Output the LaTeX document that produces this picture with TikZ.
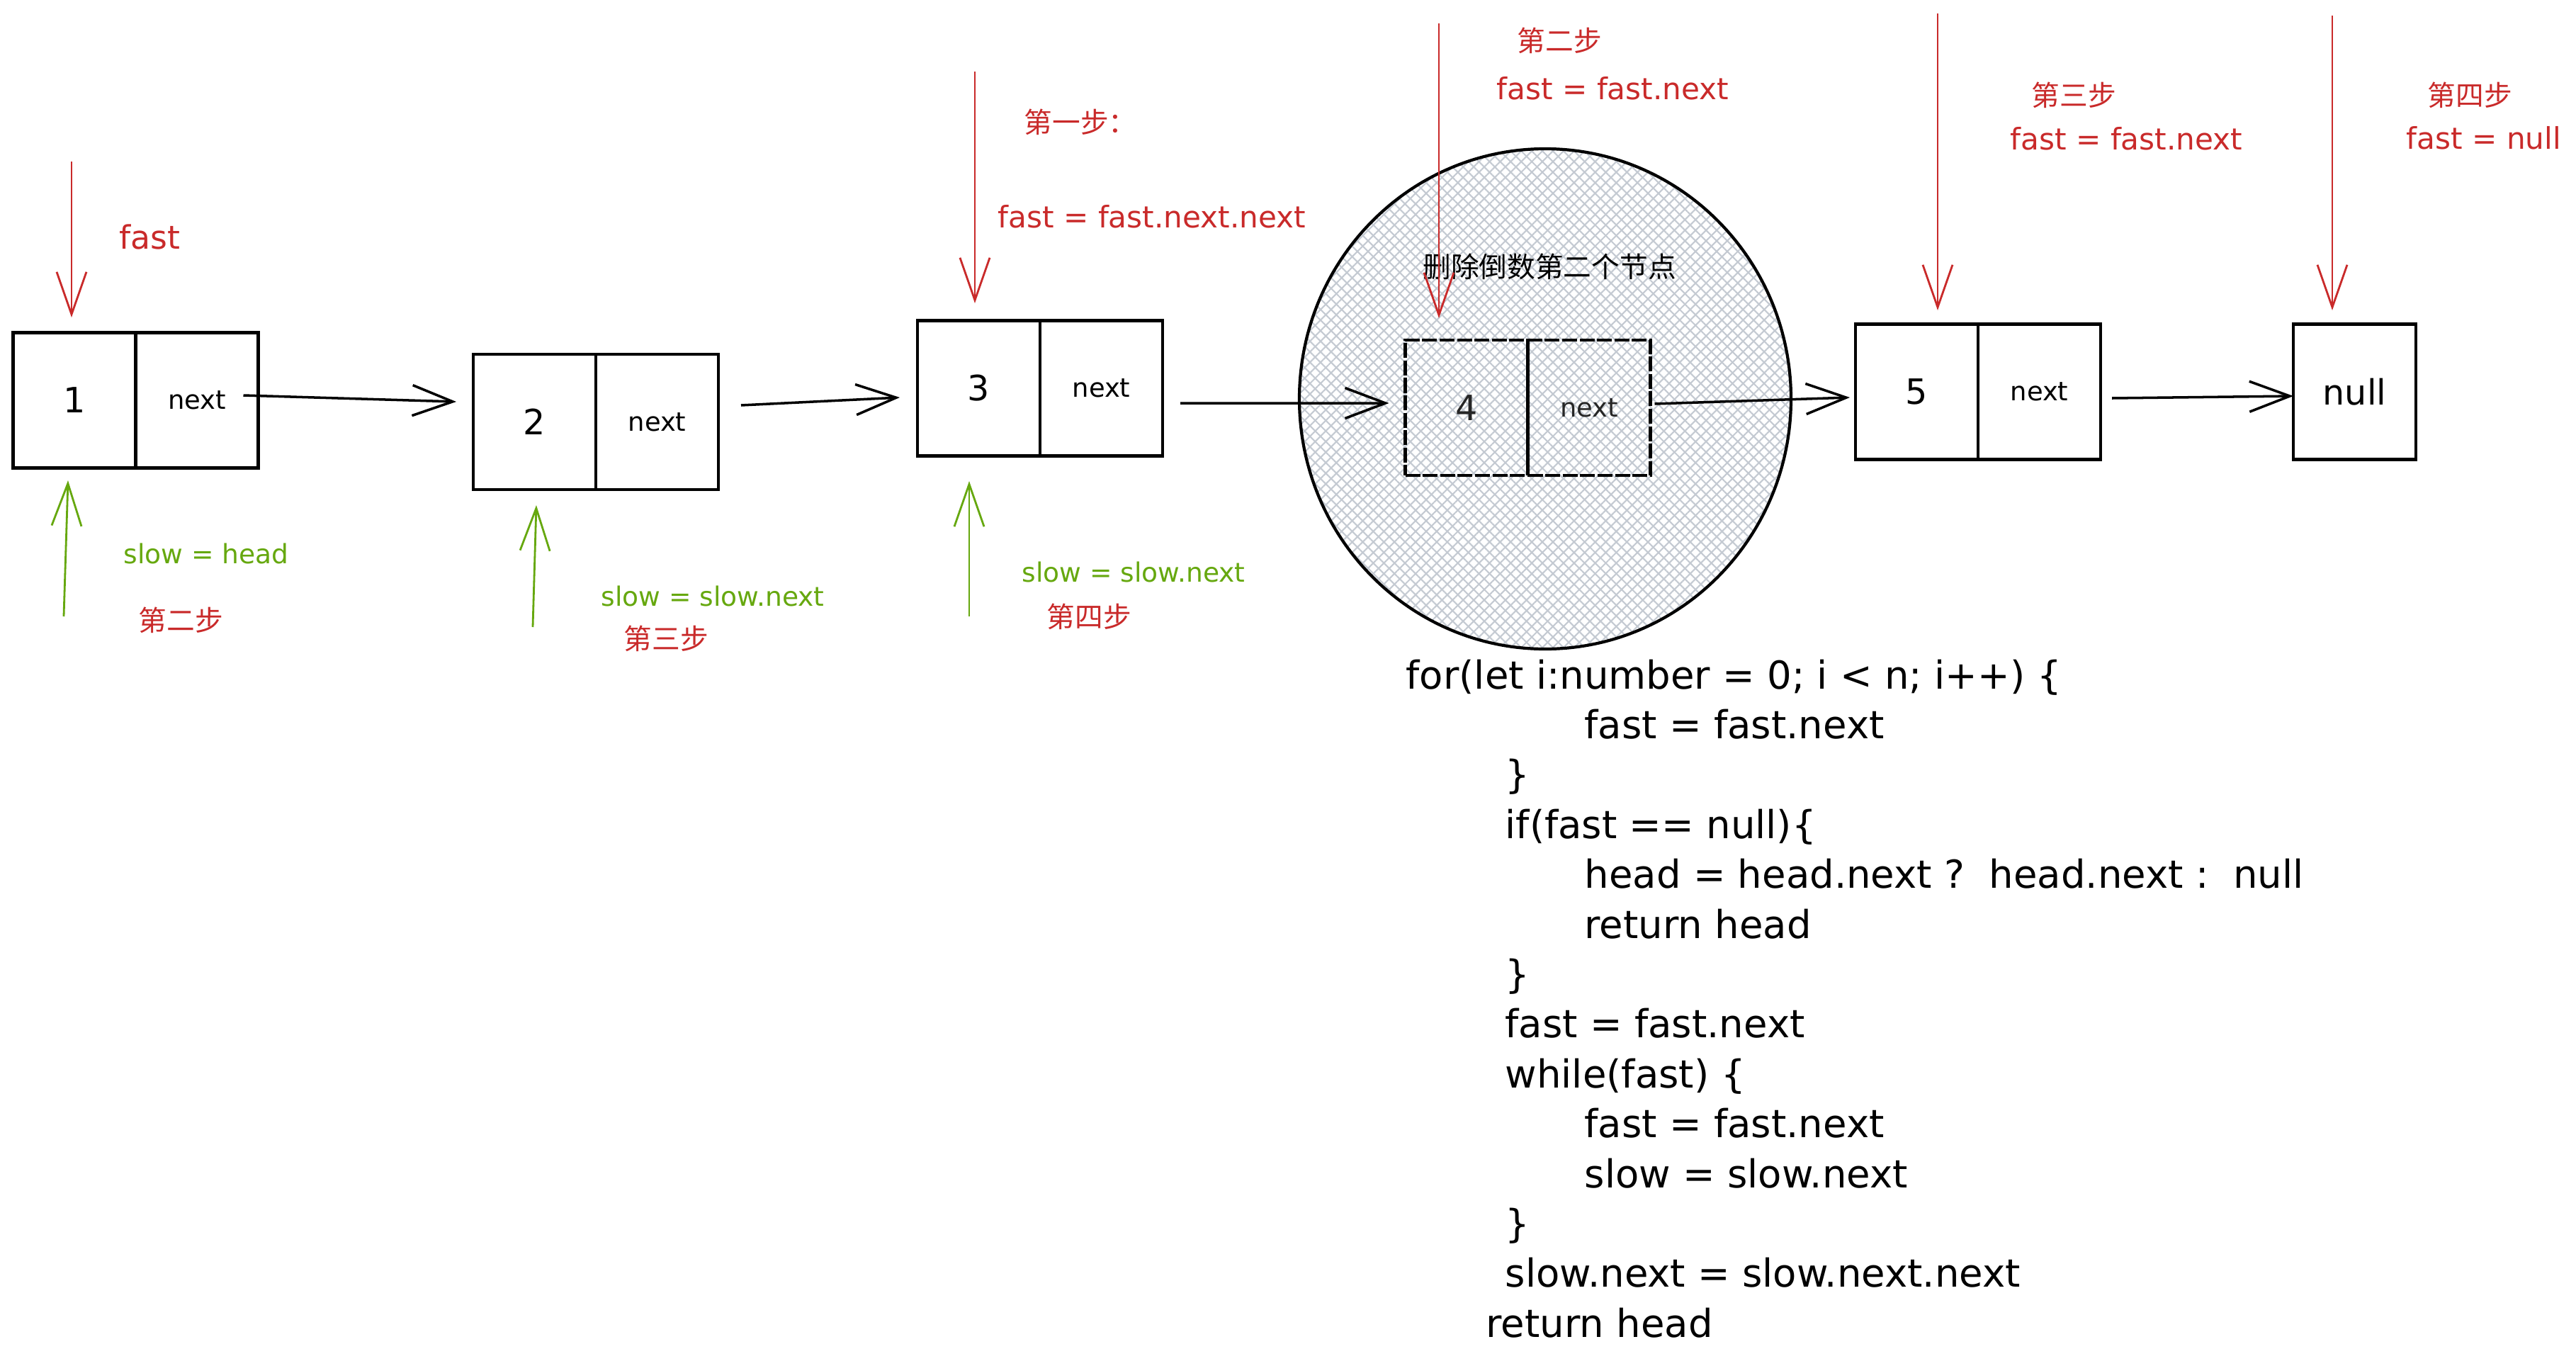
\documentclass[tikz,border=0pt]{standalone}
\usepackage{fontspec}
\setmainfont{DejaVu Sans}
\newfontfamily\cjk{Noto Sans CJK SC}
\usetikzlibrary{arrows.meta,positioning,patterns.meta}
\definecolor{stepred}{RGB}{201,42,42}
\definecolor{slowgreen}{RGB}{102,168,15}
\definecolor{hatchgray}{RGB}{196,202,210}
\tikzset{
	cell/.style={draw, line width=1.2pt, minimum width=1.73cm, minimum height=1.91cm, inner sep=0pt, outer sep=0pt, font=\fontsize{14}{16}\selectfont},
	ptrcell/.style={cell, font=\fontsize{10.5}{12}\selectfont},
	gonecell/.style={dash pattern=on 6pt off 1pt, text=black!85},
	link/.style={line width=1pt, -{Straight Barb[length=5.7mm,width=4.3mm]}},
	fastptr/.style={stepred, line width=0.8pt, -{Straight Barb[length=6mm,width=4.2mm]}},
	slowptr/.style={slowgreen, line width=0.8pt, -{Straight Barb[length=6mm,width=4.2mm]}},
	redlbl/.style={stepred, anchor=west, inner sep=0pt, font=\fontsize{12}{14}\selectfont},
	redcjk/.style={stepred, anchor=west, inner sep=0pt, font=\cjk\fontsize{11.3}{13}\selectfont},
	greenlbl/.style={slowgreen, anchor=west, inner sep=0pt, font=\fontsize{10.7}{13}\selectfont},
	codeline/.style={anchor=base west, inner sep=0pt, font=\fontsize{15.5}{18}\selectfont}
}

\begin{document}
\begin{tikzpicture}
		%%%%% START %%%%%
		\path[use as bounding box, fill=white] (0,0) rectangle (36.36,-19.28);
		
		% node to delete (hatched area first)
		\path[pattern={Lines[angle=45,distance=3pt,line width=0.6pt]}, pattern color=hatchgray] (21.81,-5.63) ellipse [x radius=3.47, y radius=3.53];
		\path[pattern={Lines[angle=-45,distance=3pt,line width=0.6pt]}, pattern color=hatchgray] (21.81,-5.63) ellipse [x radius=3.47, y radius=3.53];
		\draw[line width=1.2pt] (21.81,-5.63) ellipse [x radius=3.47, y radius=3.53];
		
		% list nodes
		\node[cell] (v1) at (1.05,-5.65) {1};
		\node[ptrcell, right=0pt of v1] (n1) {next};
		\node[cell] (v2) at (7.545,-5.955) {2};
		\node[ptrcell, right=0pt of v2] (n2) {next};
		\node[cell] (v3) at (13.815,-5.48) {3};
		\node[ptrcell, right=0pt of v3] (n3) {next};
		\node[cell, gonecell] (v4) at (20.70,-5.755) {4};
		\node[ptrcell, gonecell, right=0pt of v4] (n4) {next};
		\node[cell] (v5) at (27.055,-5.53) {5};
		\node[ptrcell, right=0pt of v5] (n5) {next};
		\node[cell] (vnull) at (33.235,-5.53) {null};
		
		\draw[link] ([shift={(-0.21,0.07)}]n1.east) -- ([shift={(-0.24,0.285)}]v2.west);
		\draw[link] ([shift={(0.32,0.235)}]n2.east) -- ([shift={(-0.25,-0.13)}]v3.west);
		\draw[link] ([shift={(0.25,-0.21)}]n3.east) -- ([shift={(-0.23,0.065)}]v4.west);
		\draw[link] ([shift={(0.06,0.055)}]n4.east) -- ([shift={(-0.08,-0.08)}]v5.west);
		\draw[link] ([shift={(0.16,-0.09)}]n5.east) -- ([shift={(0,-0.06)}]vnull.west);
		
		\node[inner sep=0pt, font=\cjk\fontsize{11.3}{13}\selectfont] (dellbl) at (21.87,-3.76) {删除倒数第二个节点};
		
		% fast
		\draw[fastptr] ([shift={(-0.04,2.415)}]v1.north) -- ([shift={(-0.04,0.215)}]v1.north);
		\draw[fastptr] ([shift={(-0.055,3.515)}]v3.north) -- ([shift={(-0.055,0.245)}]v3.north);
		\draw[fastptr] ([shift={(-0.39,4.47)}]v4.north) -- ([shift={(-0.39,0.31)}]v4.north);
		\draw[fastptr] ([shift={(0.295,4.385)}]v5.north) -- ([shift={(0.295,0.195)}]v5.north);
		\draw[fastptr] ([shift={(-0.315,4.355)}]vnull.north) -- ([shift={(-0.315,0.195)}]vnull.north);
		
		\node[redlbl, font=\fontsize{13}{15}\selectfont] (f0) at (1.68,-3.34) {fast};
		\node[redcjk] (s1) at (14.45,-1.72) {第一步：};
		\node[redlbl] (f1) at (14.08,-3.06) {fast = fast.next.next};
		\node[redcjk] (s2) at (21.41,-0.57) {第二步};
		\node[redlbl] (f2) at (21.12,-1.25) {fast = fast.next};
		\node[redcjk] (s3) at (28.67,-1.34) {第三步};
		\node[redlbl] (f3) at (28.37,-1.96) {fast = fast.next};
		\node[redcjk] (s4) at (34.26,-1.34) {第四步};
		\node[redlbl] (f4) at (33.96,-1.95) {fast = null};
		
		% slow
		\draw[slowptr] ([shift={(-0.15,-2.095)}]v1.south) -- ([shift={(-0.09,-0.175)}]v1.south);
		\draw[slowptr] ([shift={(-0.025,-1.94)}]v2.south) -- ([shift={(0.025,-0.22)}]v2.south);
		\draw[slowptr] ([shift={(-0.135,-2.265)}]v3.south) -- ([shift={(-0.135,-0.355)}]v3.south);
		
		\node[greenlbl] (g1) at (1.74,-7.81) {slow = head};
		\node[redcjk] (t1) at (1.95,-8.75) {第二步};
		\node[greenlbl] (g2) at (8.48,-8.41) {slow = slow.next};
		\node[redcjk] (t2) at (8.80,-9.01) {第三步};
		\node[greenlbl] (g3) at (14.42,-8.07) {slow = slow.next};
		\node[redcjk] (t3) at (14.77,-8.70) {第四步};
		
		% code
		\node[codeline] (c1) at (19.84,-9.72) {for(let i:number = 0; i < n; i++) \{};
		\node[codeline] (c2) at (22.36,-10.424) {fast = fast.next};
		\node[codeline] (c3) at (21.24,-11.128) {\}};
		\node[codeline] (c4) at (21.24,-11.832) {if(fast == null)\{};
		\node[codeline] (c5) at (22.36,-12.536) {head = head.next ?~~head.next :~~null};
		\node[codeline] (c6) at (22.36,-13.24) {return head};
		\node[codeline] (c7) at (21.24,-13.944) {\}};
		\node[codeline] (c8) at (21.24,-14.648) {fast = fast.next};
		\node[codeline] (c9) at (21.24,-15.352) {while(fast) \{};
		\node[codeline] (c10) at (22.36,-16.056) {fast = fast.next};
		\node[codeline] (c11) at (22.36,-16.76) {slow = slow.next};
		\node[codeline] (c12) at (21.24,-17.464) {\}};
		\node[codeline] (c13) at (21.24,-18.168) {slow.next = slow.next.next};
		\node[codeline] (c14) at (20.97,-18.872) {return head};
		%%%%% END %%%%%
	\end{tikzpicture}
\end{document}
